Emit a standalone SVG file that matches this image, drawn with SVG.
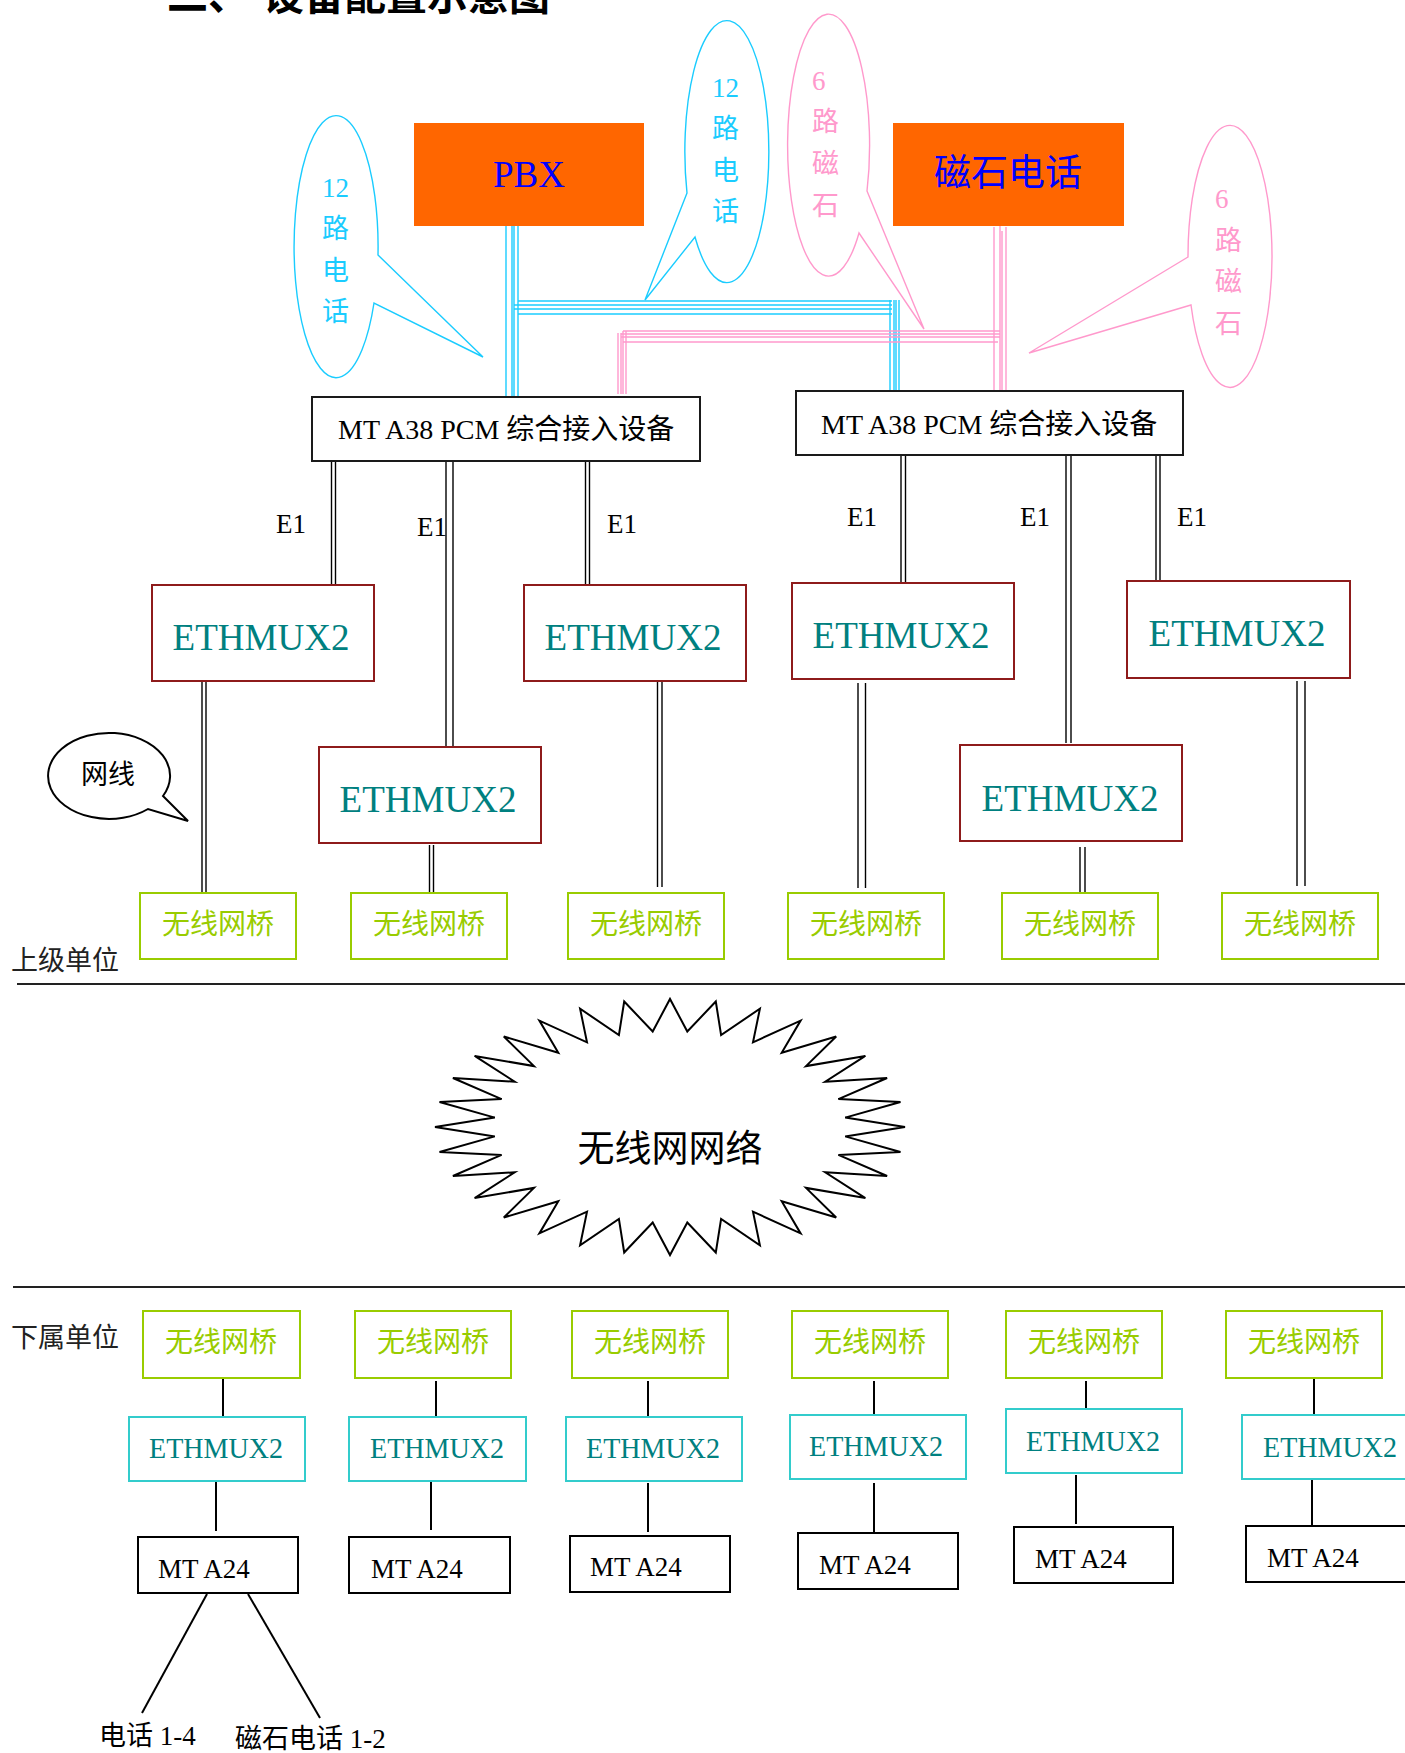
<svg xmlns="http://www.w3.org/2000/svg" width="1405" height="1753" viewBox="0 0 1405 1753">
<style>
text{font-family:"Liberation Serif","Noto Sans CJK SC",serif;}
.title{font-family:"Noto Sans CJK SC",sans-serif;font-weight:bold;font-size:41px;fill:#000;}
.cy{fill:none;stroke:#1ACCFF;stroke-width:1.4;}
.pk{fill:none;stroke:#FF99CC;stroke-width:1.4;}
.blk{fill:none;stroke:#000;stroke-width:1.4;}
.sl{fill:none;stroke:#000;stroke-width:2;}
.orange{fill:#FF6600;stroke:none;}
.big{font-size:37px;fill:#0000FF;}
.a38{fill:#fff;stroke:#1a1a1a;stroke-width:2;}
.a38t{font-size:28px;fill:#000;}
.emx{fill:#fff;stroke:#8E1B1B;stroke-width:2;}
.emxt{font-size:38px;fill:#008080;text-anchor:middle;}
.br{fill:#fff;stroke:#99CC00;stroke-width:2;}
.brt{font-size:28px;fill:#99CC00;text-anchor:middle;}
.emb{fill:#fff;stroke:#33CCCC;stroke-width:2;}
.embt{font-size:29px;fill:#008080;text-anchor:middle;}
.mt{fill:#fff;stroke:#000;stroke-width:2;}
.mtt{font-size:27px;fill:#000;}
.lbl{font-size:27px;fill:#000;}
.lblg{font-size:27px;fill:#222;}
.cyt{font-size:27px;fill:#1ACCFF;}
.pkt{font-size:27px;fill:#FF99CC;}
</style>

<text class="title" x="167" y="10">二、<tspan x="263">设备配置示意图</tspan></text>

<!-- connectors -->
<g id="connectors">
  <!-- cyan from PBX -->
  <g class="cy">
    <line x1="506" y1="226" x2="506" y2="397"/>
    <line x1="512" y1="226" x2="512" y2="397"/>
    <line x1="514" y1="226" x2="514" y2="397"/>
    <line x1="518" y1="226" x2="518" y2="397"/>
    <line x1="518" y1="301" x2="892" y2="301"/>
    <line x1="514" y1="305" x2="892" y2="305"/>
    <line x1="514" y1="309" x2="892" y2="309"/>
    <line x1="518" y1="314" x2="892" y2="314"/>
    <line x1="890" y1="300" x2="890" y2="391"/>
    <line x1="894" y1="300" x2="894" y2="391"/>
    <line x1="896" y1="300" x2="896" y2="391"/>
    <line x1="899" y1="300" x2="899" y2="391"/>
  </g>
  <!-- pink from 磁石电话 -->
  <g class="pk">
    <line x1="994" y1="227" x2="994" y2="390"/>
    <line x1="1000" y1="226" x2="1000" y2="393"/>
    <line x1="1002" y1="231" x2="1002" y2="393"/>
    <line x1="1006" y1="227" x2="1006" y2="390"/>
    <line x1="623" y1="331" x2="1000" y2="331"/>
    <line x1="621" y1="334" x2="1000" y2="334"/>
    <line x1="621" y1="337" x2="1000" y2="337"/>
    <line x1="623" y1="342" x2="998" y2="342"/>
    <line x1="618" y1="333" x2="618" y2="394"/>
    <line x1="621" y1="333" x2="621" y2="394"/>
    <line x1="623" y1="331" x2="623" y2="394"/>
    <line x1="626" y1="331" x2="626" y2="394"/>
  </g>
  <!-- E1 double lines -->
  <g class="blk">
    <line x1="331.5" y1="461" x2="331.5" y2="593"/>
    <line x1="335.5" y1="461" x2="335.5" y2="591"/>
    <line x1="446" y1="461" x2="446" y2="749"/>
    <line x1="453" y1="461" x2="453" y2="749"/>
    <line x1="585.5" y1="461" x2="585.5" y2="593"/>
    <line x1="589.5" y1="461" x2="589.5" y2="593"/>
    <line x1="901" y1="455" x2="901" y2="586"/>
    <line x1="905.5" y1="455" x2="905.5" y2="584"/>
    <line x1="1066" y1="455" x2="1066" y2="743"/>
    <line x1="1071" y1="455" x2="1071" y2="743"/>
    <line x1="1156" y1="455" x2="1156" y2="585"/>
    <line x1="1160" y1="455" x2="1160" y2="585"/>
    <!-- ETHMUX2 to bridges -->
    <line x1="202" y1="678" x2="202" y2="893"/>
    <line x1="206" y1="678" x2="206" y2="893"/>
    <line x1="429.5" y1="845" x2="429.5" y2="894"/>
    <line x1="433.5" y1="845" x2="433.5" y2="894"/>
    <line x1="657.5" y1="682" x2="657.5" y2="887"/>
    <line x1="662" y1="682" x2="662" y2="887"/>
    <line x1="858" y1="683" x2="858" y2="888"/>
    <line x1="865.5" y1="683" x2="865.5" y2="888"/>
    <line x1="1080" y1="847" x2="1080" y2="895"/>
    <line x1="1085" y1="847" x2="1085" y2="895"/>
    <line x1="1297" y1="681" x2="1297" y2="886"/>
    <line x1="1305" y1="681" x2="1305" y2="886"/>
  </g>
  <!-- bottom single lines -->
  <g class="sl">
    <line x1="223" y1="1378" x2="223" y2="1418"/>
    <line x1="216" y1="1481" x2="216" y2="1531"/>
    <line x1="436" y1="1381" x2="436" y2="1422"/>
    <line x1="431" y1="1481" x2="431" y2="1530"/>
    <line x1="648" y1="1381" x2="648" y2="1422"/>
    <line x1="648" y1="1483" x2="648" y2="1532"/>
    <line x1="874" y1="1381" x2="874" y2="1422"/>
    <line x1="874" y1="1483" x2="874" y2="1532"/>
    <line x1="1086" y1="1381" x2="1086" y2="1422"/>
    <line x1="1076" y1="1475" x2="1076" y2="1524"/>
    <line x1="1314" y1="1379" x2="1314" y2="1420"/>
    <line x1="1312" y1="1479" x2="1312" y2="1528"/>
    <line x1="207" y1="1594" x2="142" y2="1713"/>
    <line x1="248" y1="1594" x2="320" y2="1718"/>
  </g>
  <!-- separators -->
  <line x1="17" y1="984" x2="1405" y2="984" stroke="#222" stroke-width="2"/>
  <line x1="13" y1="1287" x2="1405" y2="1287" stroke="#222" stroke-width="2"/>
</g>

<!-- callouts -->
<g id="callout-12-left">
  <path class="cy" d="M378,255 L483,357 L374,303 A42,131 0 1 1 378,255 Z"/>
  <text class="cyt" x="322" y="197">12</text>
  <text class="cyt" x="322" y="238">路</text>
  <text class="cyt" x="322" y="280">电</text>
  <text class="cyt" x="322" y="321">话</text>
</g>
<g id="callout-12-mid">
  <path class="cy" d="M687,193 L645,300 L695,237 A42,131 0 1 0 687,193 Z"/>
  <text class="cyt" x="712" y="97">12</text>
  <text class="cyt" x="712" y="138">路</text>
  <text class="cyt" x="712" y="180">电</text>
  <text class="cyt" x="712" y="221">话</text>
</g>
<g id="callout-6-mid">
  <path class="pk" d="M867,191 L924,329 L859,233 A41,131 0 1 1 867,191 Z"/>
  <text class="pkt" x="812" y="90">6</text>
  <text class="pkt" x="812" y="131">路</text>
  <text class="pkt" x="812" y="173">磁</text>
  <text class="pkt" x="812" y="215">石</text>
</g>
<g id="callout-6-right">
  <path class="pk" d="M1188,257 L1029,353 L1191,305 A42,131 0 1 0 1188,257 Z"/>
  <text class="pkt" x="1215" y="208">6</text>
  <text class="pkt" x="1215" y="250">路</text>
  <text class="pkt" x="1215" y="291">磁</text>
  <text class="pkt" x="1215" y="333">石</text>
</g>
<g id="callout-wangxian">
  <path d="M163,796 L188,821 L148,809 A61,43 0 1 1 163,796 Z" fill="none" stroke="#000" stroke-width="2"/>
  <text class="lbl" x="81" y="784">网线</text>
</g>

<!-- top nodes -->
<g id="pbx">
  <rect class="orange" x="414" y="123" width="230" height="103"/>
  <text class="big" x="529" y="187" text-anchor="middle">PBX</text>
</g>
<g id="magneto">
  <rect class="orange" x="893" y="123" width="231" height="103"/>
  <text class="big" x="1008" y="186" text-anchor="middle" font-size="36">磁石电话</text>
</g>
<g id="a38-left">
  <rect class="a38" x="312" y="397" width="388" height="64"/>
  <text class="a38t" x="338" y="439">MT A38 PCM 综合接入设备</text>
</g>
<g id="a38-right">
  <rect class="a38" x="796" y="391" width="387" height="64"/>
  <text class="a38t" x="821" y="434">MT A38 PCM 综合接入设备</text>
</g>

<g id="e1-labels">
  <text class="lbl" x="276" y="533">E1</text>
  <text class="lbl" x="417" y="536">E1</text>
  <text class="lbl" x="607" y="533">E1</text>
  <text class="lbl" x="847" y="526">E1</text>
  <text class="lbl" x="1020" y="526">E1</text>
  <text class="lbl" x="1177" y="526">E1</text>
</g>

<g id="ethmux-1"><rect class="emx" x="152" y="585" width="222" height="96"/><text class="emxt" x="261" y="650" textLength="177" lengthAdjust="spacingAndGlyphs">ETHMUX2</text></g>
<g id="ethmux-2"><rect class="emx" x="319" y="747" width="222" height="96"/><text class="emxt" x="428" y="812" textLength="177" lengthAdjust="spacingAndGlyphs">ETHMUX2</text></g>
<g id="ethmux-3"><rect class="emx" x="524" y="585" width="222" height="96"/><text class="emxt" x="633" y="650" textLength="177" lengthAdjust="spacingAndGlyphs">ETHMUX2</text></g>
<g id="ethmux-4"><rect class="emx" x="792" y="583" width="222" height="96"/><text class="emxt" x="901" y="648" textLength="177" lengthAdjust="spacingAndGlyphs">ETHMUX2</text></g>
<g id="ethmux-5"><rect class="emx" x="960" y="745" width="222" height="96"/><text class="emxt" x="1070" y="811" textLength="177" lengthAdjust="spacingAndGlyphs">ETHMUX2</text></g>
<g id="ethmux-6"><rect class="emx" x="1127" y="581" width="223" height="97"/><text class="emxt" x="1237" y="646" textLength="177" lengthAdjust="spacingAndGlyphs">ETHMUX2</text></g>

<g id="bridge-top-1"><rect class="br" x="140" y="893" width="156" height="66"/><text class="brt" x="218" y="934">无线网桥</text></g>
<g id="bridge-top-2"><rect class="br" x="351" y="893" width="156" height="66"/><text class="brt" x="429" y="934">无线网桥</text></g>
<g id="bridge-top-3"><rect class="br" x="568" y="893" width="156" height="66"/><text class="brt" x="646" y="934">无线网桥</text></g>
<g id="bridge-top-4"><rect class="br" x="788" y="893" width="156" height="66"/><text class="brt" x="866" y="934">无线网桥</text></g>
<g id="bridge-top-5"><rect class="br" x="1002" y="893" width="156" height="66"/><text class="brt" x="1080" y="934">无线网桥</text></g>
<g id="bridge-top-6"><rect class="br" x="1222" y="893" width="156" height="66"/><text class="brt" x="1300" y="934">无线网桥</text></g>

<text class="lblg" x="11" y="970">上级单位</text>

<g id="wireless-network">
  <polygon transform="translate(670,1127)" fill="#fff" stroke="#000" stroke-width="2" points="235,0 175.2,9.4 230.5,25 168.4,27.9 217.1,49 155.2,45.3 195.4,71.1 136,60.9 166.2,90.5 111.7,74.2 130.6,106.4 83,84.7 89.9,118.3 51.1,91.9 45.8,125.5 17.3,95.5 0,128 -17.3,95.5 -45.8,125.5 -51.1,91.9 -89.9,118.3 -83,84.7 -130.6,106.4 -111.7,74.2 -166.2,90.5 -136,60.9 -195.4,71.1 -155.2,45.3 -217.1,49 -168.4,27.9 -230.5,25 -175.2,9.4 -235,0 -175.2,-9.4 -230.5,-25 -168.4,-27.9 -217.1,-49 -155.2,-45.3 -195.4,-71.1 -136,-60.9 -166.2,-90.5 -111.7,-74.2 -130.6,-106.4 -83,-84.7 -89.9,-118.3 -51.1,-91.9 -45.8,-125.5 -17.3,-95.5 0,-128 17.3,-95.5 45.8,-125.5 51.1,-91.9 89.9,-118.3 83,-84.7 130.6,-106.4 111.7,-74.2 166.2,-90.5 136,-60.9 195.4,-71.1 155.2,-45.3 217.1,-49 168.4,-27.9 230.5,-25 175.2,-9.4"/>
  <text x="670" y="1162" font-size="37" fill="#000" text-anchor="middle">无线网网络</text>
</g>

<text class="lblg" x="11" y="1347">下属单位</text>

<g id="bridge-bot-1"><rect class="br" x="143" y="1311" width="157" height="67"/><text class="brt" x="221" y="1352">无线网桥</text></g>
<g id="bridge-bot-2"><rect class="br" x="355" y="1311" width="156" height="67"/><text class="brt" x="433" y="1352">无线网桥</text></g>
<g id="bridge-bot-3"><rect class="br" x="572" y="1311" width="156" height="67"/><text class="brt" x="650" y="1352">无线网桥</text></g>
<g id="bridge-bot-4"><rect class="br" x="792" y="1311" width="156" height="67"/><text class="brt" x="870" y="1352">无线网桥</text></g>
<g id="bridge-bot-5"><rect class="br" x="1006" y="1311" width="156" height="67"/><text class="brt" x="1084" y="1352">无线网桥</text></g>
<g id="bridge-bot-6"><rect class="br" x="1226" y="1311" width="156" height="67"/><text class="brt" x="1304" y="1352">无线网桥</text></g>

<g id="ethmux-bot-1"><rect class="emb" x="129" y="1417" width="176" height="64"/><text class="embt" x="216" y="1458" textLength="134" lengthAdjust="spacingAndGlyphs">ETHMUX2</text></g>
<g id="ethmux-bot-2"><rect class="emb" x="349" y="1417" width="177" height="64"/><text class="embt" x="437" y="1458" textLength="134" lengthAdjust="spacingAndGlyphs">ETHMUX2</text></g>
<g id="ethmux-bot-3"><rect class="emb" x="566" y="1417" width="176" height="64"/><text class="embt" x="653" y="1458" textLength="134" lengthAdjust="spacingAndGlyphs">ETHMUX2</text></g>
<g id="ethmux-bot-4"><rect class="emb" x="790" y="1415" width="176" height="64"/><text class="embt" x="876" y="1456" textLength="134" lengthAdjust="spacingAndGlyphs">ETHMUX2</text></g>
<g id="ethmux-bot-5"><rect class="emb" x="1006" y="1409" width="176" height="64"/><text class="embt" x="1093" y="1451" textLength="134" lengthAdjust="spacingAndGlyphs">ETHMUX2</text></g>
<g id="ethmux-bot-6"><rect class="emb" x="1242" y="1415" width="176" height="64"/><text class="embt" x="1330" y="1457" textLength="134" lengthAdjust="spacingAndGlyphs">ETHMUX2</text></g>

<g id="mta24-1"><rect class="mt" x="138" y="1537" width="160" height="56"/><text class="mtt" x="158" y="1578">MT A24</text></g>
<g id="mta24-2"><rect class="mt" x="349" y="1537" width="161" height="56"/><text class="mtt" x="371" y="1578">MT A24</text></g>
<g id="mta24-3"><rect class="mt" x="570" y="1536" width="160" height="56"/><text class="mtt" x="590" y="1576">MT A24</text></g>
<g id="mta24-4"><rect class="mt" x="798" y="1533" width="160" height="56"/><text class="mtt" x="819" y="1574">MT A24</text></g>
<g id="mta24-5"><rect class="mt" x="1014" y="1527" width="159" height="56"/><text class="mtt" x="1035" y="1568">MT A24</text></g>
<g id="mta24-6"><rect class="mt" x="1246" y="1526" width="170" height="56"/><text class="mtt" x="1267" y="1567">MT A24</text></g>

<g id="phones">
  <text class="lbl" x="99" y="1745">电话 1-4</text>
  <text class="lbl" x="235" y="1748">磁石电话 1-2</text>
</g>
</svg>
